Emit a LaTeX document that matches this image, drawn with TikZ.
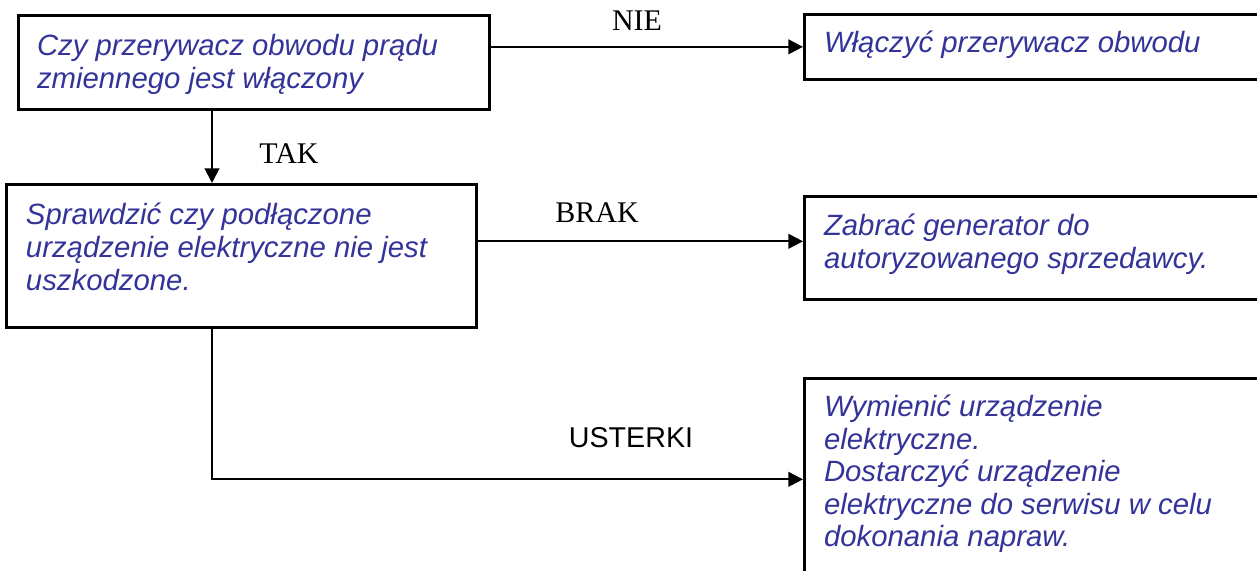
\documentclass[tikz,border=0pt]{standalone}
\usepackage{fontspec}
\setmainfont{Liberation Serif}
\setsansfont{Liberation Sans}
\usetikzlibrary{arrows.meta}
\definecolor{stepblue}{RGB}{51,51,153}

\begin{document}
\begin{tikzpicture}[x=0.75pt,y=-0.75pt,->,>={Triangle[length=11pt,width=11pt]},
      line width=1.5pt,
      box node/.style={draw,anchor=north west,inner sep=0pt,line width=2pt},
      step text/.style={anchor=north west,inner sep=0pt,align=left,text=stepblue,
      font=\sffamily\itshape\fontsize{22}{24.75}\selectfont},
      serif label/.style={anchor=base,inner sep=0pt,font=\rmfamily\fontsize{22.5}{26}\selectfont},
      sans label/.style={anchor=base,inner sep=0pt,font=\sffamily\fontsize{21.5}{26}\selectfont}]

      \useasboundingbox (0,0) rectangle (1257,571);

      %% THESE ARE THE BOXES. THE RIGHT ONES RUN OFF THE PAGE
      \node[box node,minimum width=353.25pt,minimum height=70.5pt] (ask) at (17,14) {};
      \node[box node,minimum width=352.5pt,minimum height=107.25pt] (check) at (5,183) {};
      \node[box node,minimum width=352.5pt,minimum height=48.75pt] (switch) at (803,13) {};
      \node[box node,minimum width=352.5pt,minimum height=77.25pt] (dealer) at (803,195) {};
      \node[box node,minimum width=352.5pt,minimum height=151.5pt] (repair) at (803,377) {};
      \coordinate (trunk) at (212,0);

      %% THESE ARE THE TEXTS IN THE BOXES
      \node[step text] (ask t) at (36,33.5) {Czy przerywacz obwodu prądu\\zmiennego jest włączony};
      \node[step text] (check t) at (25,202) {Sprawdzić czy podłączone\\urządzenie elektryczne nie jest\\uszkodzone.};
      \node[step text] (switch t) at (823,30) {Włączyć przerywacz obwodu};
      \node[step text] (dealer t) at (823,213) {Zabrać generator do\\autoryzowanego sprzedawcy.};
      \node[step text,font=\sffamily\itshape\fontsize{22}{24.4}\selectfont] (repair t) at (823,394)
            {Wymienić urządzenie\\elektryczne.\\Dostarczyć urządzenie\\elektryczne do serwisu w celu\\dokonania napraw.};

      %% THESE ARE THE EDGE LABELS
      \node[serif label] (nie) at (637,30) {NIE};
      \node[serif label] (tak) at (289,163) {TAK};
      \node[serif label] (brak) at (597,222) {BRAK};
      \node[sans label] (usterki) at (631,447) {USTERKI};

      %% THESE ARE THE EDGES
      \draw (ask.east |- switch.west) -- (switch.west);
      \draw (ask.south -| trunk) -- (check.north -| trunk);
      \draw ([yshift=4.9pt]dealer.west -| check.east) -- ([yshift=4.9pt]dealer.west);
      \draw (check.south -| trunk) |- (repair.west);
    \end{tikzpicture}
\end{document}
